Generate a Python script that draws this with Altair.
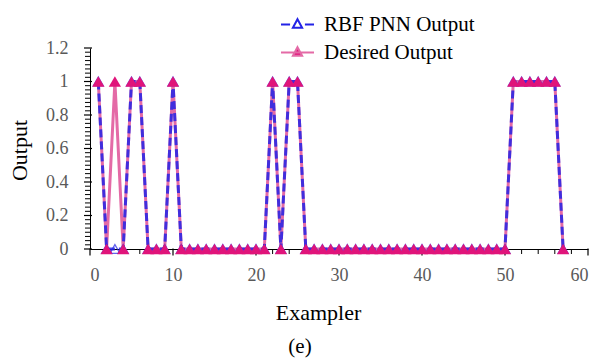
import altair as alt
import pandas as pd

exampler = list(range(1, 58))
desired = [1, 0, 1, 0, 1, 1, 0, 0, 0, 1,
           0, 0, 0, 0, 0, 0, 0, 0, 0, 0,
           0, 1, 0, 1, 1, 0, 0, 0, 0, 0,
           0, 0, 0, 0, 0, 0, 0, 0, 0, 0,
           0, 0, 0, 0, 0, 0, 0, 0, 0, 0,
           1, 1, 1, 1, 1, 1, 0]
rbf = [1, 0, 0, 0, 1, 1, 0, 0, 0, 1,
       0, 0, 0, 0, 0, 0, 0, 0, 0, 0,
       0, 1, 0, 1, 1, 0, 0, 0, 0, 0,
       0, 0, 0, 0, 0, 0, 0, 0, 0, 0,
       0, 0, 0, 0, 0, 0, 0, 0, 0, 0,
       1, 1, 1, 1, 1, 1, 0]
series_names = ["RBF PNN Output", "Desired Output"]
x_major = [0, 10, 20, 30, 40, 50, 60]
x_minor = [2, 4, 6, 8, 12, 14, 16, 18, 22, 24, 26, 28, 32, 34, 36, 38,
           42, 44, 46, 48, 52, 54, 56, 58]
y_major = [0, 0.2, 0.4, 0.6, 0.8, 1.0, 1.2]
y_minor = [round(i * 0.025, 3) for i in range(49) if i % 8 != 0]

BLUE = "#2323E6"
PINK_LINE = "#E46AA6"
PINK = "#E0147A"
FONT = "Liberation Serif"

df = pd.DataFrame({"x": exampler, "desired": desired, "rbf": rbf})
df_long = pd.DataFrame({
    "x": exampler + exampler,
    "y": rbf + desired,
    "series": [series_names[0]] * len(exampler) + [series_names[1]] * len(exampler),
})

xscale = alt.Scale(domain=[0, 60], nice=False, zero=False)
yscale = alt.Scale(domain=[0, 1.2], nice=False)

x_axis = alt.Axis(
    values=x_major,
    labelOverlap=False,
    labelBound=False,
    title="Exampler",
    titleX=228, titleY=63, titleBaseline="middle",
    ticks=False,
    labelPadding=17,
)
y_axis = alt.Axis(
    values=y_major,
    format=".1~f",
    labelOverlap=False,
    labelBound=False,
    title="Output",
    titleX=-71, titleY=102, titleBaseline="middle",
    ticks=False,
    labelPadding=22,
)

base = alt.Chart(df)
X = alt.X("x:Q", scale=xscale, axis=x_axis)

# axis tick marks (major and minor)
y_major_ticks = alt.Chart(pd.DataFrame({"v": y_major})).mark_tick(
    color="#000000", size=8, thickness=1.2, orient="horizontal", opacity=1
).encode(y=alt.Y("v:Q", scale=yscale, axis=y_axis), x=alt.value(-2))
y_minor_ticks = alt.Chart(pd.DataFrame({"v": y_minor})).mark_tick(
    color="#000000", size=5, thickness=1, orient="horizontal", opacity=1
).encode(y=alt.Y("v:Q", scale=yscale, axis=y_axis), x=alt.value(-2.5))
x_major_ticks = alt.Chart(pd.DataFrame({"v": x_major})).mark_tick(
    color="#000000", size=7, thickness=1.2, orient="vertical", opacity=1
).encode(x=alt.X("v:Q", scale=xscale, axis=x_axis), y=alt.value(204))
x_minor_ticks = alt.Chart(pd.DataFrame({"v": x_minor})).mark_tick(
    color="#000000", size=5, thickness=1, orient="vertical", opacity=1
).encode(x=alt.X("v:Q", scale=xscale, axis=x_axis), y=alt.value(203.5))

desired_line = base.mark_line(color=PINK_LINE, strokeWidth=3).encode(
    x=X, y=alt.Y("desired:Q", scale=yscale, axis=y_axis),
)
rbf_line = base.mark_line(color=BLUE, strokeWidth=3, strokeDash=[8, 4], opacity=0.85).encode(
    x=X, y=alt.Y("rbf:Q", scale=yscale, axis=y_axis),
)
rbf_points = base.mark_point(shape="triangle-up", filled=False, color=BLUE, size=100, strokeWidth=1.3).encode(
    x=X, y=alt.Y("rbf:Q", scale=yscale, axis=y_axis),
)
desired_points = base.mark_point(shape="triangle-up", filled=True, color=PINK, size=150, opacity=1).encode(
    x=X, y=alt.Y("desired:Q", scale=yscale, axis=y_axis),
)

path_rbf = "M-1,0 H-0.45 M0.45,0 H1 M0,-0.32 L0.28,0.2 L-0.28,0.2 Z"
path_des = "M-1,0 H1 M0,-0.32 L0.28,0.2 L-0.28,0.2 Z"

legend = alt.Legend(
    title=None, orient="none", legendX=190, legendY=-41,
    labelFont=FONT, labelFontSize=21, labelColor="#000000",
    symbolSize=1089, symbolStrokeWidth=2, symbolOpacity=1,
    labelOffset=9, rowPadding=0,
)
legend_layer = alt.Chart(df_long).mark_point(opacity=0).encode(
    x=X,
    y=alt.Y("y:Q", scale=yscale, axis=y_axis),
    shape=alt.Shape("series:N", scale=alt.Scale(domain=series_names, range=[path_rbf, path_des]), legend=legend),
    stroke=alt.Stroke("series:N", scale=alt.Scale(domain=series_names, range=[BLUE, PINK_LINE]), legend=legend),
    fill=alt.Fill("series:N", scale=alt.Scale(domain=series_names, range=["#FFFFFF", PINK]), legend=legend),
)

chart = alt.layer(
    y_major_ticks, y_minor_ticks, x_major_ticks, x_minor_ticks,
    desired_line, rbf_line, rbf_points, desired_points, legend_layer,
).properties(
    width=498, height=201,
    autosize=alt.AutoSizeParams(type="none"),
    padding={"left": 90, "top": 48, "right": 10, "bottom": 112},
    title=alt.TitleParams(text="(e)", orient="bottom", anchor="middle", dx=-39, offset=13,
                          font=FONT, fontSize=21, fontWeight="normal", color="#000000"),
).configure_view(stroke=None).configure_axis(
    labelFont=FONT, labelFontSize=18, labelColor="#595959",
    titleFont=FONT, titleFontSize=22, titleFontWeight="normal", titleColor="#000000",
    domainColor="#000000", grid=False, labelOverlap=False,
)

chart.save("out.html", embed_options={"renderer": "svg", "actions": False})
